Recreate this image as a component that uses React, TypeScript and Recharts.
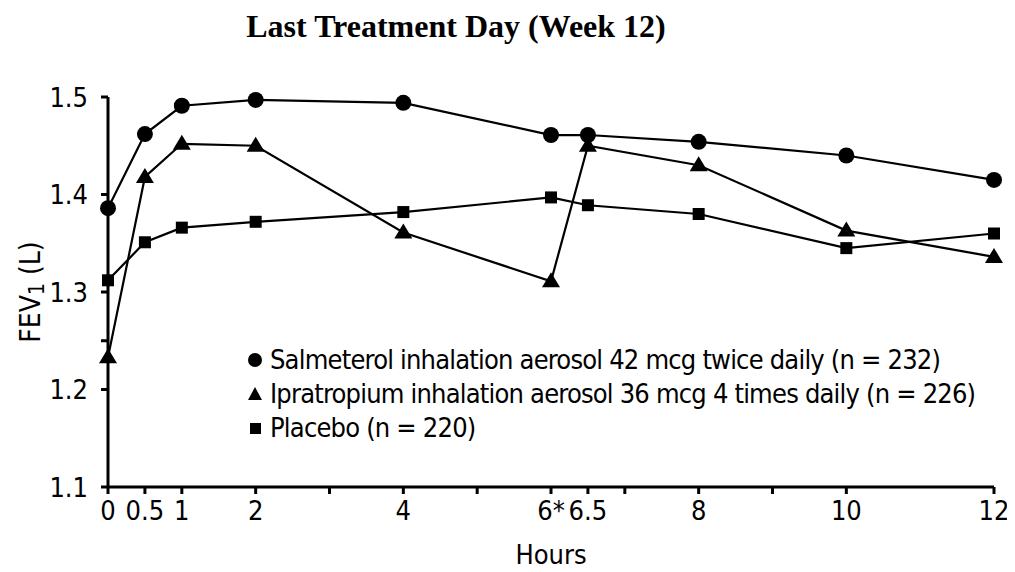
import { LineChart, Line, XAxis, YAxis, Legend } from 'recharts'

const hours = [0, 0.5, 1, 2, 4, 6, 6.5, 8, 10, 12]
const salmeterol = [1.386, 1.462, 1.491, 1.497, 1.494, 1.461, 1.461, 1.454, 1.44, 1.415]
const ipratropium = [1.233, 1.418, 1.452, 1.45, 1.361, 1.311, 1.45, 1.43, 1.363, 1.336]
const placebo = [1.312, 1.351, 1.366, 1.372, 1.382, 1.397, 1.389, 1.38, 1.345, 1.36]

const seriesNames = [
  'Salmeterol inhalation aerosol 42 mcg twice daily (n = 232)',
  'Ipratropium inhalation aerosol 36 mcg 4 times daily (n = 226)',
  'Placebo (n = 220)',
]

const xTicks = [0, 0.5, 1, 2, 3, 4, 5, 6, 6.5, 7, 8, 9, 10, 12]
const xTickLabels = ['0', '0.5', '1', '2', '', '4', '', '6*', '6.5', '', '8', '', '10', '12']
const yTicks = [1.1, 1.2, 1.25, 1.3, 1.4, 1.5]
const yTickLabels = ['1.1', '1.2', '', '1.3', '1.4', '1.5']

const data = hours.map((h, i) => ({
  hour: h,
  salmeterol: salmeterol[i],
  ipratropium: ipratropium[i],
  placebo: placebo[i],
}))

const FONT = '"DejaVu Sans Condensed", "Liberation Sans Narrow", sans-serif'

function CircleDot(props: any) {
  const { cx, cy, index } = props
  return <circle key={'c' + index} cx={cx} cy={cy} r={8} fill='#000' />
}

function TriangleDot(props: any) {
  const { cx, cy, index } = props
  return (
    <path
      key={'t' + index}
      d={`M${cx},${cy - 9}L${cx - 9},${cy + 6}L${cx + 9},${cy + 6}Z`}
      fill='#000'
    />
  )
}

function SquareDot(props: any) {
  const { cx, cy, index } = props
  return <rect key={'s' + index} x={cx - 6} y={cy - 6} width={12} height={12} fill='#000' />
}

function LegendIcon({ i }: { i: number }) {
  return (
    <svg width={30} height={34} style={{ verticalAlign: 'top' }}>
      {i === 0 && <circle cx={15} cy={17} r={7} fill='#000' />}
      {i === 1 && <path d='M15,10L8,23L22,23Z' fill='#000' />}
      {i === 2 && <rect x={10} y={12} width={11} height={11} fill='#000' />}
    </svg>
  )
}

function renderLegend() {
  return (
    <div style={{ fontFamily: FONT, fontSize: 27, lineHeight: '34px', letterSpacing: -0.8, color: '#000', textAlign: 'left' }}>
      {seriesNames.map((name, i) => (
        <div key={i} style={{ whiteSpace: 'nowrap', height: 34 }}>
          <LegendIcon i={i} />
          <span>{name}</span>
        </div>
      ))}
    </div>
  )
}

function YLabel(props: any) {
  const vb = props.viewBox || { x: 0, y: 0, width: 0, height: 0 }
  const cx = vb.x + 30
  const cy = vb.y + vb.height / 2
  return (
    <text
      x={cx}
      y={cy}
      transform={`rotate(-90 ${cx} ${cy})`}
      textAnchor='middle'
      dominantBaseline='central'
      fontFamily={FONT}
      fontSize={28}
      fill='#000'
    >
      FEV
      <tspan dy={7} fontSize={21}>1</tspan>
      <tspan dy={-7}> (L)</tspan>
    </text>
  )
}

export default function App() {
  return (
    <div style={{ position: 'relative', width: 1015, height: 572, margin: -8, background: '#fff' }}>
      <div
        style={{
          position: 'absolute',
          top: 8,
          left: 0,
          width: 912,
          textAlign: 'center',
          fontFamily: '"Liberation Serif", "Times New Roman", serif',
          fontWeight: 'bold',
          fontSize: 32,
          color: '#000',
          zIndex: 1,
        }}
      >
        Last Treatment Day (Week 12)
      </div>
      <LineChart
        width={1015}
        height={572}
        data={data}
        margin={{ top: 97, right: 21, left: 0, bottom: 0 }}
      >
        <XAxis
          dataKey='hour'
          type='number'
          domain={[0, 12]}
          ticks={xTicks}
          interval={0}
          tickFormatter={(v: number) => xTickLabels[xTicks.indexOf(v)] ?? ''}
          height={85}
          tickSize={7}
          tickMargin={7}
          axisLine={{ stroke: '#000', strokeWidth: 3 }}
          tickLine={{ stroke: '#000', strokeWidth: 3 }}
          tick={{ fill: '#000', fontFamily: FONT, fontSize: 27 }}
          label={{ value: 'Hours', position: 'insideBottom', offset: 8, fill: '#000', fontFamily: FONT, fontSize: 27 }}
        />
        <YAxis
          type='number'
          domain={[1.1, 1.5]}
          ticks={yTicks}
          interval={0}
          tickFormatter={(v: number) => yTickLabels[yTicks.indexOf(v)] ?? ''}
          width={108}
          tickSize={7}
          tickMargin={13}
          axisLine={{ stroke: '#000', strokeWidth: 3 }}
          tickLine={{ stroke: '#000', strokeWidth: 3 }}
          tick={{ fill: '#000', fontFamily: FONT, fontSize: 27 }}
          label={{ content: YLabel }}
        />
        <Legend
          layout='vertical'
          verticalAlign='middle'
          align='center'
          wrapperStyle={{ left: 240, top: 343, width: 760 }}
          content={renderLegend}
        />
        <Line
          name={seriesNames[0]}
          dataKey='salmeterol'
          stroke='#000'
          strokeWidth={2.2}
          dot={CircleDot}
          activeDot={false}
          isAnimationActive={false}
        />
        <Line
          name={seriesNames[1]}
          dataKey='ipratropium'
          stroke='#000'
          strokeWidth={2.2}
          dot={TriangleDot}
          activeDot={false}
          isAnimationActive={false}
        />
        <Line
          name={seriesNames[2]}
          dataKey='placebo'
          stroke='#000'
          strokeWidth={2.2}
          dot={SquareDot}
          activeDot={false}
          isAnimationActive={false}
        />
      </LineChart>
    </div>
  )
}
